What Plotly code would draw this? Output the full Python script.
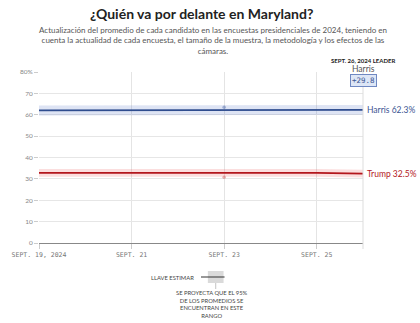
import plotly.graph_objects as go

dates = ["2024-09-19", "2024-09-20", "2024-09-21", "2024-09-22", "2024-09-23", "2024-09-24", "2024-09-25", "2024-09-26"]
harris = [62.0, 62.0, 62.1, 62.3, 62.1, 62.0, 62.2, 62.3]
harris_hi = [64.3, 64.3, 64.4, 64.6, 64.4, 64.3, 64.5, 64.6]
harris_lo = [59.7, 59.7, 59.8, 60.0, 59.8, 59.7, 59.9, 60.0]
trump = [32.8, 32.8, 32.9, 33.0, 33.0, 32.9, 32.8, 32.5]
trump_hi = [34.6, 34.6, 34.7, 34.8, 34.8, 34.7, 34.6, 34.3]
trump_lo = [31.0, 31.0, 31.1, 31.2, 31.2, 31.1, 31.0, 30.7]
poll_dates = ["2024-09-23", "2024-09-23"]
poll_vals = [63.5, 30.8]
poll_colors = ["rgba(60,90,160,0.4)", "rgba(200,60,60,0.4)"]
tick_vals = ["2024-09-19", "2024-09-21", "2024-09-23", "2024-09-25"]
tick_text = ["SEPT. 19, 2024", "SEPT. 21", "SEPT. 23", "SEPT. 25"]
y_ticks = [0, 10, 20, 30, 40, 50, 60, 70, 80]
y_text = ["0", "10", "20", "30", "40", "50", "60", "70", "80%"]

BLUE = "#2f4d8f"
RED = "#b3161c"

W, H = 420, 323
L, R, T, B = 33, 363, 72, 243

def px(x):
    return (x - L) / (R - L)

def py(y):
    return (B - y) / (B - T)

fig = go.Figure()
fig.add_trace(go.Scatter(x=dates, y=harris_hi, mode="lines", line=dict(width=0), hoverinfo="skip", showlegend=False))
fig.add_trace(go.Scatter(x=dates, y=harris_lo, mode="lines", line=dict(width=0), fill="tonexty",
                         fillcolor="rgba(90,120,200,0.2)", hoverinfo="skip", showlegend=False))
fig.add_trace(go.Scatter(x=dates, y=trump_hi, mode="lines", line=dict(width=0), hoverinfo="skip", showlegend=False))
fig.add_trace(go.Scatter(x=dates, y=trump_lo, mode="lines", line=dict(width=0), fill="tonexty",
                         fillcolor="rgba(235,90,90,0.2)", hoverinfo="skip", showlegend=False))
fig.add_trace(go.Scatter(x=dates, y=harris, mode="lines", line=dict(color=BLUE, width=1.8), showlegend=False))
fig.add_trace(go.Scatter(x=dates, y=trump, mode="lines", line=dict(color=RED, width=1.8), showlegend=False))
fig.add_trace(go.Scatter(x=poll_dates, y=poll_vals, mode="markers",
                         marker=dict(size=3.5, color=poll_colors), showlegend=False))

ann = []
ann.append(dict(x=0.5, xref="paper", y=py(14), yref="paper", text="<b>¿Quién va por delante en Maryland?</b>",
                showarrow=False, font=dict(family="Lato", size=14, color="#222"), xanchor="center", yanchor="middle"))
ann.append(dict(x=px(210), xref="paper", y=py(41), yref="paper",
                text="Actualización del promedio de cada candidato en las encuestas presidenciales de 2024, teniendo en<br>cuenta la actualidad de cada encuesta, el tamaño de la muestra, la metodología y los efectos de las<br>cámaras.",
                showarrow=False, font=dict(family="Lato", size=8, color="#555"), xanchor="center", yanchor="middle",
                align="center"))
ann.append(dict(x=px(363), xref="paper", y=py(60), yref="paper", text="<b>SEPT. 26, 2024 LEADER</b>",
                showarrow=False, font=dict(family="Lato", size=6, color="#222"), xanchor="center", yanchor="middle"))
ann.append(dict(x=px(363), xref="paper", y=py(69), yref="paper", text="Harris",
                showarrow=False, font=dict(family="Lato", size=8.5, color="#555"), xanchor="center", yanchor="middle"))
ann.append(dict(x=px(363), xref="paper", y=py(80), yref="paper", text="+29.8",
                showarrow=False, font=dict(family="DejaVu Sans Mono", size=7.5, color="#3b5592"),
                xanchor="center", yanchor="middle", bgcolor="#dde6f6", bordercolor="#6f88c2", borderwidth=1, borderpad=1))
ann.append(dict(x=dates[-1], y=harris[-1], text="Harris 62.3%", showarrow=False, xanchor="left", yanchor="middle",
                xshift=2, font=dict(family="Lato", size=8.5, color="#3b5592")))
ann.append(dict(x=dates[-1], y=trump[-1], text="Trump 32.5%", showarrow=False, xanchor="left", yanchor="middle",
                xshift=2, font=dict(family="Lato", size=8.5, color="#b3161c")))
ann.append(dict(x=px(193), xref="paper", y=py(277), yref="paper", text="LLAVE ESTIMAR",
                showarrow=False, font=dict(family="Lato", size=5.8, color="#444"), xanchor="right", yanchor="middle"))
ann.append(dict(x=px(209), xref="paper", y=py(304), yref="paper",
                text="SE PROYECTA QUE EL 95%<br>DE LOS PROMEDIOS SE<br>ENCUENTRAN EN ESTE<br>RANGO",
                showarrow=False, font=dict(family="Lato", size=5.8, color="#444"), xanchor="center", yanchor="middle",
                align="center"))

shapes = []
shapes.append(dict(type="rect", xref="paper", yref="paper", x0=px(205), x1=px(221), y0=py(283), y1=py(271),
                   fillcolor="rgba(150,150,150,0.35)", line=dict(width=0)))
shapes.append(dict(type="line", xref="paper", yref="paper", x0=px(198), x1=px(222), y0=py(277), y1=py(277),
                   line=dict(color="#333", width=1)))
shapes.append(dict(type="line", xref="paper", yref="paper", x0=px(213), x1=px(213), y0=py(283), y1=py(289),
                   line=dict(color="#999", width=0.6)))
shapes.append(dict(type="line", xref="paper", yref="paper", x0=1, x1=1, y0=py(249), y1=1,
                   line=dict(color="#ddd", width=1)))

fig.update_layout(
    width=W, height=H,
    margin=dict(l=L, r=W - R, t=T, b=H - B),
    paper_bgcolor="white", plot_bgcolor="white",
    annotations=ann, shapes=shapes,
    xaxis=dict(range=[dates[0], dates[-1]], tickvals=tick_vals, ticktext=tick_text, showgrid=True,
               gridcolor="#e4e4e4", gridwidth=1, showline=False, zeroline=False, ticks="outside", ticklen=5,
               tickcolor="#ccc", tickfont=dict(family="DejaVu Sans Mono", size=6.5, color="#777")),
    yaxis=dict(range=[0, 80], tickvals=y_ticks, ticktext=y_text, showgrid=True, gridcolor="#e6e6e6",
               zeroline=True, zerolinecolor="#888", zerolinewidth=1, showline=False, ticks="outside",
               ticklen=4, tickcolor="#ccc", tickfont=dict(family="Lato", size=6.5, color="#888")),
)

fig.write_html("out.html")
